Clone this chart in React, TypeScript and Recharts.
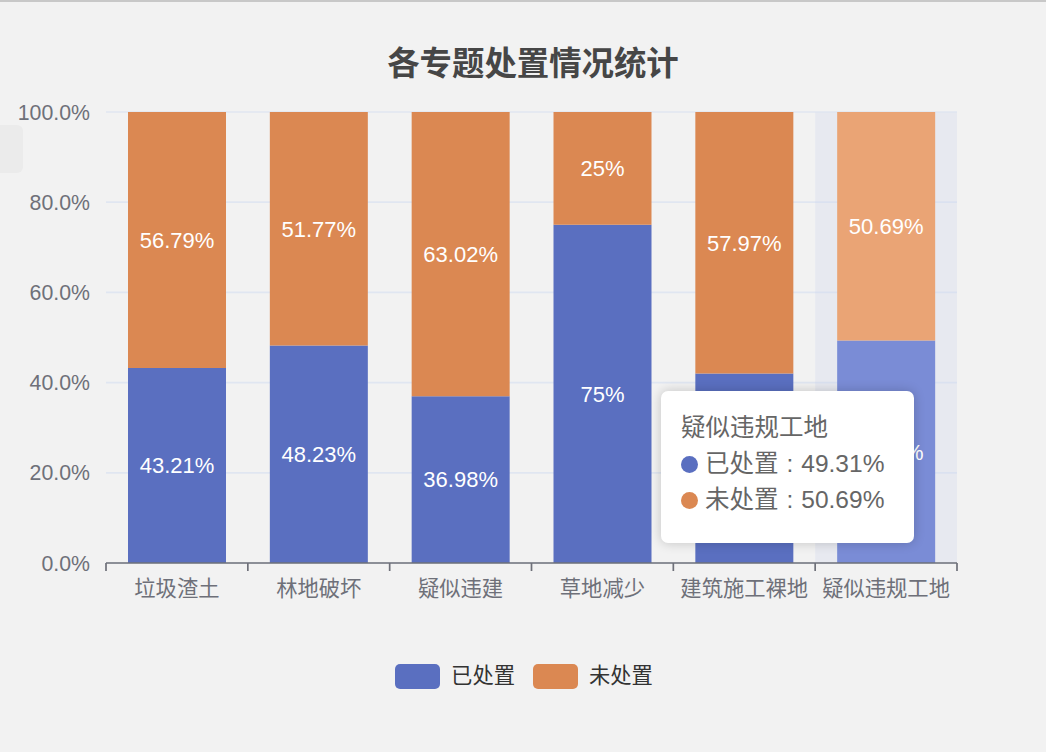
import React from 'react';
import { BarChart, Bar, XAxis, YAxis, CartesianGrid, Tooltip, LabelList, Cell } from 'recharts';

// categories and shares (percent)
const categories = ['垃圾渣土', '林地破坏', '疑似违建', '草地减少', '建筑施工裸地', '疑似违规工地'];
const handled = [43.21, 48.23, 36.98, 75, 42.03, 49.31];
const unhandled = [56.79, 51.77, 63.02, 25, 57.97, 50.69];
const yTicks = [0, 20, 40, 60, 80, 100];

const seriesNames = { handled: '已处置', unhandled: '未处置' };

const BLUE = '#5a6fc0';
const ORANGE = '#db8852';
const BLUE_HI = '#7a8cd6';
const ORANGE_HI = '#eaa475';

const FONT = '"Liberation Sans", "Noto Sans CJK SC", sans-serif';

const WIDTH = 1046;
const HEIGHT = 752;
const PLOT_LEFT = 106;
const PLOT_RIGHT = 89;
const BAND = (WIDTH - PLOT_LEFT - PLOT_RIGHT) / categories.length;
const ACTIVE = 5;

const data = categories.map((name, i) => ({
  name,
  handled: handled[i],
  unhandled: unhandled[i],
}));

const fmtLabel = (v: any) => `${v}%`;

// tick lines sit on the band boundaries, labels in the middle
const XTick = (props: any) => {
  const { x, y, payload, index, visibleTicksCount } = props;
  const axisY = y - 18;
  const half = BAND / 2;
  return (
    <g>
      <line x1={x - half} y1={axisY} x2={x - half} y2={axisY + 8} stroke="#6e7079" strokeWidth={1.7} />
      {index === visibleTicksCount - 1 && (
        <line x1={x + half} y1={axisY} x2={x + half} y2={axisY + 8} stroke="#6e7079" strokeWidth={1.7} />
      )}
      <text x={x} y={y} dy="0.71em" textAnchor="middle" fill="#6e7079" fontSize={21.3} fontFamily={FONT}>
        {payload.value}
      </text>
    </g>
  );
};

const TooltipBox = ({ active, payload, label }: any) => {
  if (!active || !payload || !payload.length) return null;
  return (
    <div
      style={{
        width: 216,
        background: '#fff',
        borderRadius: 7,
        boxShadow: '0 0 12px rgba(0,0,0,0.2)',
        padding: '19px 17px 25px 20px',
        fontFamily: FONT,
        color: '#666',
        fontSize: 24.5,
        lineHeight: '36px',
      }}
    >
      <div>{label}</div>
      {payload.map((p: any) => (
        <div key={p.dataKey} style={{ display: 'flex', alignItems: 'center' }}>
          <span
            style={{
              display: 'inline-block',
              width: 17,
              height: 17,
              borderRadius: '50%',
              background: p.dataKey === 'handled' ? BLUE : ORANGE,
              marginRight: 7,
            }}
          />
          <span>{p.name}</span>
          <span style={{ margin: '0 8px' }}>:</span>
          <span>{p.value}%</span>
        </div>
      ))}
    </div>
  );
};

const LegendBox = () => (
  <div
    style={{
      position: 'absolute',
      top: 662,
      left: 0,
      width: WIDTH + 2,
      display: 'flex',
      justifyContent: 'center',
      alignItems: 'center',
      fontFamily: FONT,
      fontSize: 21.3,
      color: '#333',
    }}
  >
    {[
      { name: seriesNames.handled, color: BLUE },
      { name: seriesNames.unhandled, color: ORANGE },
    ].map((item, i) => (
      <div key={item.name} style={{ display: 'flex', alignItems: 'center', marginLeft: i ? 18 : 0 }}>
        <span style={{ display: 'inline-block', width: 45, height: 25, borderRadius: 5, background: item.color }} />
        <span style={{ marginLeft: 11, lineHeight: '25px' }}>{item.name}</span>
      </div>
    ))}
  </div>
);

export default function App() {
  return (
    <div
      style={{
        position: 'absolute',
        left: 0,
        top: 0,
        width: WIDTH,
        height: HEIGHT,
        background: '#f2f2f2',
        borderTop: '2px solid #c8c8c8',
        boxSizing: 'border-box',
        overflow: 'hidden',
      }}
    >
      <div
        style={{
          position: 'absolute',
          left: -10,
          top: 123,
          width: 33,
          height: 48,
          borderRadius: 6,
          background: '#ebebeb',
        }}
      />
      <div
        style={{
          position: 'absolute',
          top: 35,
          left: 0,
          width: WIDTH + 20,
          textAlign: 'center',
          fontFamily: FONT,
          fontWeight: 'bold',
          fontSize: 32.4,
          color: '#464646',
        }}
      >
        各专题处置情况统计
      </div>
      <div style={{ position: 'absolute', left: 0, top: -2 }}>
        <BarChart
          width={WIDTH}
          height={HEIGHT}
          data={data}
          margin={{ top: 112, right: PLOT_RIGHT, bottom: 0, left: 0 }}
        >
          <CartesianGrid vertical={false} stroke="#e0e6f1" strokeWidth={1.7} />
          <XAxis
            dataKey="name"
            height={189}
            axisLine={{ stroke: '#6e7079', strokeWidth: 1.7 }}
            tickLine={false}
            tickSize={8}
            tickMargin={10}
            interval={0}
            tick={<XTick />}
          />
          <YAxis
            width={PLOT_LEFT}
            domain={[0, 100]}
            ticks={yTicks}
            axisLine={false}
            tickLine={false}
            tickSize={0}
            tickMargin={16}
            tickFormatter={(v: number) => `${v.toFixed(1)}%`}
            tick={{ fill: '#6e7079', fontSize: 21.3, fontFamily: FONT }}
          />
          <Tooltip
            defaultIndex={ACTIVE}
            position={{ x: 661, y: 391 }}
            cursor={{ fill: 'rgba(205,212,235,0.27)' }}
            content={<TooltipBox />}
            isAnimationActive={false}
            wrapperStyle={{ outline: 'none' }}
          />
          <Bar dataKey="handled" name={seriesNames.handled} stackId="a" fill={BLUE} barSize={98} isAnimationActive={false}>
            {data.map((d, i) => (
              <Cell key={d.name} fill={i === ACTIVE ? BLUE_HI : BLUE} />
            ))}
            <LabelList dataKey="handled" position="center" formatter={fmtLabel} fill="#fff" fontSize={22} fontFamily={FONT} />
          </Bar>
          <Bar dataKey="unhandled" name={seriesNames.unhandled} stackId="a" fill={ORANGE} barSize={98} isAnimationActive={false}>
            {data.map((d, i) => (
              <Cell key={d.name} fill={i === ACTIVE ? ORANGE_HI : ORANGE} />
            ))}
            <LabelList dataKey="unhandled" position="center" formatter={fmtLabel} fill="#fff" fontSize={22} fontFamily={FONT} />
          </Bar>
        </BarChart>
      </div>
      <LegendBox />
    </div>
  );
}
